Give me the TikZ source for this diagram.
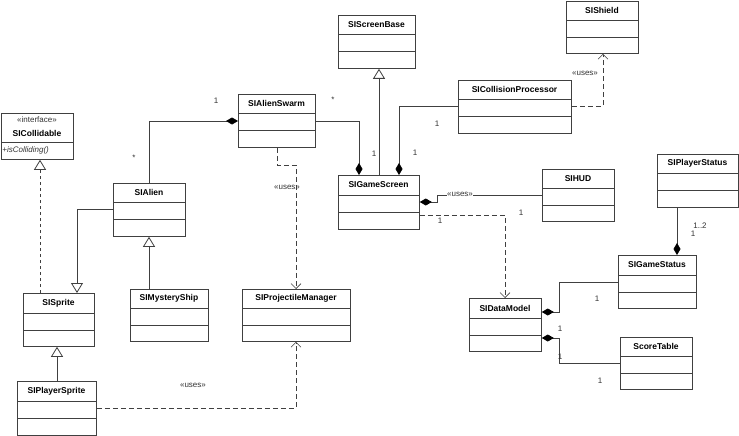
\documentclass[tikz,border=0pt]{standalone}
\usepackage{fontspec}
\setmainfont{Liberation Sans}
\usetikzlibrary{arrows.meta}
\begin{document}
\begin{tikzpicture}[x=1pt,y=-1pt,line width=0.8pt,
  box/.style={draw=black!75,fill=white,inner sep=0,anchor=north west},
  ttl/.style={font=\bfseries\fontsize{8.5}{9}\selectfont,inner sep=0},
  lab/.style={font=\fontsize{8}{9}\selectfont,inner sep=0,text=black!80},
  con/.style={draw=black!75},
  comp/.style={con,-{Diamond[black,length=12pt,width=7pt]}},
  gen/.style={con,-{Triangle[open,fill=white,length=10pt,width=12pt]}},
  dep/.style={con,dashed,dash pattern=on 5pt off 3pt,-{Straight Barb[length=5pt,width=10pt,line width=0.6pt]}}]
\useasboundingbox[fill=white] (0,0) rectangle (739,436);
% \umlclass{name}{left}{top}{right}{line1}{line2}{bottom}{title}
\newcommand\umlclass[8]{%
  \node[box,minimum width=#4pt-#2pt,minimum height=#7pt-#3pt] (#1) at (#2,#3) {};
  \draw[black!75] (#2,#5) -- (#4,#5) (#2,#6) -- (#4,#6);
  \node[ttl] (#1-t) at ({(#2+#4)/2},{(#3+#5)/2}) {#8};}
\umlclass{swarm}{238}{94}{315}{113}{130}{147}{SIAlienSwarm}
\umlclass{alien}{113}{183}{185}{202}{219}{236}{SIAlien}
\umlclass{sprite}{23}{293}{94}{313}{330}{346}{SISprite}
\umlclass{mystery}{130}{289}{208}{308}{325}{341}{SIMysteryShip}
\umlclass{proj}{242}{289}{350}{308}{325}{341}{SIProjectileManager}
\umlclass{player}{17}{381}{96}{401}{418}{435}{SIPlayerSprite}
\umlclass{screenbase}{338}{15}{415}{34}{51}{68}{SIScreenBase}
\umlclass{shield}{566}{1}{638}{20}{37}{53}{SIShield}
\umlclass{coll}{458}{80}{571}{99}{116}{133}{SICollisionProcessor}
\umlclass{game}{338}{175}{419}{195}{212}{229}{SIGameScreen}
\umlclass{hud}{542}{169}{614}{188}{205}{221}{SIHUD}
\umlclass{pstatus}{657}{154}{738}{173}{190}{207}{SIPlayerStatus}
\umlclass{gstatus}{618}{255}{696}{275}{292}{308}{SIGameStatus}
\umlclass{data}{469}{298}{541}{318}{335}{351}{SIDataModel}
\umlclass{score}{620}{337}{692}{356}{373}{389}{ScoreTable}
% interface
\node[box,minimum width=72pt,minimum height=46pt] (icoll) at (1,113) {};
\draw[black!75] (1,142) -- (73,142);
\node[lab] (icoll-s) at (37,120) {«interface»};
\node[ttl] (icoll-t) at (37,133) {SICollidable};
\node[lab,anchor=west] (icoll-m) at (2,150) {\itshape +isColliding()};
% connectors
\draw[comp] (alien.north) |- (swarm.west |- 0,121);
\draw[comp] (swarm.east |- 0,121) -| (game.north -| 359,0);
\draw[dep] ([xshift=39pt]swarm.south west) |- (296,165) -- (proj.north -| 296,0);
\draw[gen] (alien.west |- 0,209) -| (sprite.north -| 77,0);
\draw[gen] (mystery.north -| 149,0) -- (alien.south -| 149,0);
\draw[gen,dashed] (sprite.north -| 40,0) -- (icoll.south -| 40,0);
\draw[gen] (player.north -| 57,0) -- (sprite.south -| 57,0);
\draw[dep] (player.east |- 0,408) -| (proj.south -| 296,0);
\draw[gen] (game.north -| 379,0) -- (screenbase.south -| 379,0);
\draw[comp] (coll.west |- 0,106) -| (game.north -| 399,0);
\draw[dep] (coll.east |- 0,106) -| (shield.south -| 603,0);
\draw[comp] (hud.west |- 0,195) -- (437,195) -- (437,202) -- (game.east |- 0,202);
\draw[dep] (game.east |- 0,215) -| (data.north -| 505,0);
\draw[comp] (pstatus.south -| 677,0) -- (gstatus.north -| 677,0);
\draw[comp] (gstatus.west |- 0,282) -| (559,312) -- (data.east |- 0,312);
\draw[comp] (score.west |- 0,363) -| (559,338) -- (data.east |- 0,338);
% labels
\node[lab] (l1) at (216,101) {1};
\node[lab] (l2) at (134,158) {*};
\node[lab] (l3) at (333,100) {*};
\node[lab] (l4) at (374,154) {1};
\node[lab] (l5) at (287,187) {«uses»};
\node[lab] (l6) at (193,385) {«uses»};
\node[lab] (l7) at (437,124) {1};
\node[lab] (l8) at (415,153) {1};
\node[lab] (l9) at (585,73) {«uses»};
\node[lab,fill=white] (l10) at (460,194) {«uses»};
\node[lab] (l11) at (521,213) {1};
\node[lab] (l12) at (440,221) {1};
\node[lab] (l13) at (700,226) {1..2};
\node[lab] (l14) at (693,234) {1};
\node[lab] (l15) at (597,299) {1};
\node[lab] (l16) at (560,329) {1};
\node[lab] (l17) at (560,357) {1};
\node[lab] (l18) at (600,381) {1};
\end{tikzpicture}
\end{document}
